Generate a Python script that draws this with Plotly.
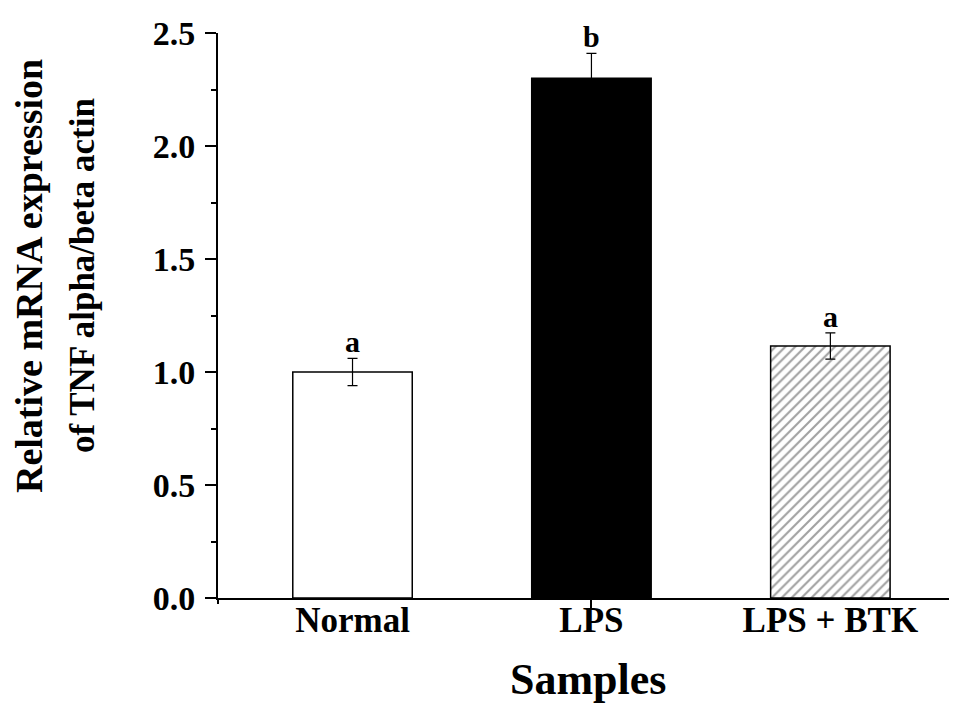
import plotly.graph_objects as go

categories = ["Normal", "LPS", "LPS + BTK"]
x_pos = [0, 1, 2]
values = [1.00, 2.30, 1.115]
errors = [0.06, 0.11, 0.058]
sig_letters = ["a", "b", "a"]
y_ticks = [0.0, 0.5, 1.0, 1.5, 2.0, 2.5]

FONT = "Liberation Serif"

fig = go.Figure()

fig.add_trace(go.Bar(
    x=x_pos,
    y=values,
    width=0.5,
    marker=dict(
        color=["white", "black", "white"],
        line=dict(color="black", width=1.5),
        pattern=dict(shape=["", "", "/"], fgcolor="black", bgcolor="white",
                     size=7, solidity=0.3, fillmode="overlay"),
    ),
    error_y=dict(type="data", array=errors, visible=True,
                 color="black", thickness=1.2, width=5),
    showlegend=False,
))

annotations = []
for xi, v, e, s in zip(x_pos, values, errors, sig_letters):
    annotations.append(dict(
        x=xi, y=v + e, xref="x", yref="y", text=s, showarrow=False,
        yanchor="bottom", yshift=-2,
        font=dict(family=FONT, size=30, color="black", weight="bold"),
    ))

annotations.append(dict(
    x=0, y=0.5699, xref="paper", yref="paper", xanchor="center", yanchor="middle",
    xshift=-189, text="Relative mRNA expression", textangle=-90, showarrow=False,
    font=dict(family=FONT, size=38, color="black", weight="bold"),
))
annotations.append(dict(
    x=0, y=0.5699, xref="paper", yref="paper", xanchor="center", yanchor="middle",
    xshift=-136, text="of TNF alpha/beta actin", textangle=-90, showarrow=False,
    font=dict(family=FONT, size=35, color="black", weight="bold"),
))
annotations.append(dict(
    x=0.5, y=0, xref="paper", yref="paper", xanchor="center", yanchor="middle",
    yshift=-81, text="Samples", showarrow=False,
    font=dict(family=FONT, size=44, color="black", weight="bold"),
))

# the page body has an 8px default margin, so the figure is sized/positioned to compensate
fig.update_layout(
    width=949, height=698,
    margin=dict(l=210, r=0, t=25, b=108),
    paper_bgcolor="white", plot_bgcolor="white",
    annotations=annotations,
    shapes=[dict(type="line", xref="paper", yref="paper", x0=0, x1=0,
                 y0=0, y1=-6 / 565, line=dict(color="black", width=2))],
    xaxis=dict(
        range=[-0.563, 2.53],
        tickvals=x_pos, ticktext=categories,
        ticks="", showgrid=False, zeroline=False,
        showline=True, linecolor="black", linewidth=2,
        ticklabelstandoff=-10,
        tickfont=dict(family=FONT, size=35, color="black", weight="bold"),
        minor=dict(tick0=1, dtick=100, ticks="outside", ticklen=9,
                   tickwidth=1.5, tickcolor="black"),
    ),
    yaxis=dict(
        range=[0, 2.5],
        tickvals=y_ticks, tickformat=".1f",
        ticks="outside", ticklen=11, tickwidth=2, tickcolor="black",
        showgrid=False, zeroline=False,
        showline=True, linecolor="black", linewidth=2,
        ticklabelstandoff=3,
        tickfont=dict(family=FONT, size=34, color="black", weight="bold"),
        minor=dict(dtick=0.25, ticks="outside", ticklen=5, tickwidth=2,
                   tickcolor="black", showgrid=False),
    ),
)

fig.write_html("out.html")
